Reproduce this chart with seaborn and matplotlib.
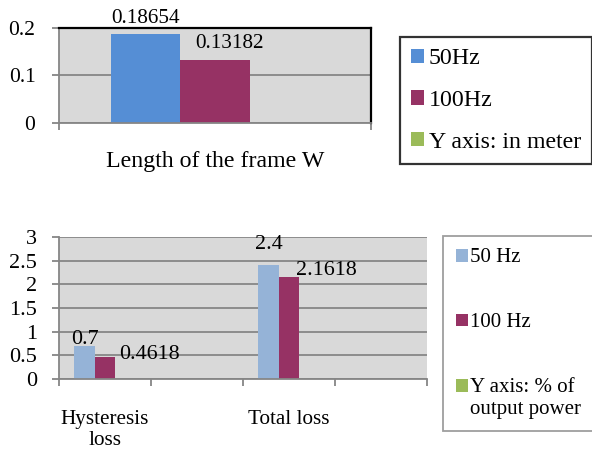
import matplotlib
matplotlib.use('Agg')
import matplotlib.pyplot as plt
from matplotlib.patches import Patch
import seaborn as sns
import pandas as pd

# data
top_category = ["Length of the frame W"]
top_series = ["50Hz", "100Hz", "Y axis: in meter"]
top_values = [0.18654, 0.13182, 0.0]
top_labels = ["0.18654", "0.13182", None]

bottom_categories = ["Hysteresis\nloss", " ", "Total loss", "  "]
bottom_series = ["50 Hz", "100 Hz", "Y axis: % of\noutput power"]
bottom_50 = [0.7, 0.0, 2.4, 0.0]
bottom_100 = [0.4618, 0.0, 2.1618, 0.0]
bottom_axis = [0.0, 0.0, 0.0, 0.0]
bottom_labels = {("Hysteresis\nloss", "50 Hz"): "0.7",
                 ("Hysteresis\nloss", "100 Hz"): "0.4618",
                 ("Total loss", "50 Hz"): "2.4",
                 ("Total loss", "100 Hz"): "2.1618"}

top_colors = ["#558ED5", "#963264", "#9BBB59"]
bottom_colors = ["#95B3D7", "#963264", "#9BBB59"]
grid_gray = "#868686"
bg = "#D9D9D9"

plt.rcParams['font.family'] = ['Liberation Serif', 'DejaVu Serif']

fig = plt.figure(figsize=(5.92, 4.51), dpi=100)
W, H = 592, 451


def px_axes(x0, y0, x1, y1):
    return fig.add_axes([x0 / W, 1 - y1 / H, (x1 - x0) / W, (y1 - y0) / H])


# ---- top chart ----
ax1 = px_axes(59, 28, 371, 123)
df_top = pd.DataFrame({"category": top_category * len(top_series),
                       "series": top_series, "value": top_values})
sns.barplot(data=df_top, x="category", y="value", hue="series",
            hue_order=top_series, palette=dict(zip(top_series, top_colors)),
            width=0.668, gap=0, saturation=1, errorbar=None, legend=False,
            linewidth=0, ax=ax1)
ax1.set_facecolor(bg)
ax1.set_axisbelow(True)
ax1.set_ylim(0, 0.2)
ax1.set_yticks([0, 0.1, 0.2])
ax1.set_yticklabels(["0", "0.1", "0.2"])
ax1.yaxis.grid(True, color=grid_gray, lw=1.3)
ax1.set_xlim(-0.5, 0.5)
ax1.set_xticks([-0.5, 0.5])
ax1.set_xticklabels(["", ""])
ax1.set_xticks([0], minor=True)
ax1.set_xticklabels(top_category, minor=True)
ax1.tick_params(axis='x', which='minor', length=0, pad=20.5, labelsize=17.2)
ax1.tick_params(axis='x', which='major', length=5, color=grid_gray, width=1.3)
ax1.tick_params(axis='y', length=5, color=grid_gray, width=1.3, pad=12, labelsize=15.5)
ax1.set_xlabel("")
ax1.set_ylabel("")
for s in ["top", "right"]:
    ax1.spines[s].set_color("black")
    ax1.spines[s].set_linewidth(1.6)
for s in ["left", "bottom"]:
    ax1.spines[s].set_color(grid_gray)
    ax1.spines[s].set_linewidth(1.3)

top_offsets = [(0, 8), (10.5, 9), (0, 0)]
for cont, lab, off in zip(ax1.containers, top_labels, top_offsets):
    if lab is None:
        continue
    bar = cont[0]
    ax1.annotate(lab, (bar.get_x() + bar.get_width() / 2, bar.get_height()),
                 xytext=off, textcoords="offset points", ha="center",
                 va="baseline", fontsize=15.2, annotation_clip=False)

# ---- bottom chart ----
ax2 = px_axes(59, 237, 427, 379)
df_bot = pd.DataFrame({
    "category": bottom_categories * 3,
    "series": [s for s in bottom_series for _ in bottom_categories],
    "value": bottom_50 + bottom_100 + bottom_axis,
})
sns.barplot(data=df_bot, x="category", y="value", hue="series",
            order=bottom_categories, hue_order=bottom_series,
            palette=dict(zip(bottom_series, bottom_colors)),
            width=0.668, gap=0, saturation=1, errorbar=None, legend=False,
            linewidth=0, ax=ax2)
ax2.set_facecolor(bg)
ax2.set_axisbelow(True)
ax2.set_ylim(0, 3)
ax2.set_yticks([0, 0.5, 1, 1.5, 2, 2.5, 3])
ax2.set_yticklabels(["0", "0.5", "1", "1.5", "2", "2.5", "3"])
ax2.yaxis.grid(True, color=grid_gray, lw=1.3)
n = len(bottom_categories)
ax2.set_xlim(-0.5, n - 0.5)
ax2.set_xticks([i - 0.5 for i in range(n + 1)])
ax2.set_xticklabels([""] * (n + 1))
ax2.set_xticks(range(n), minor=True)
ax2.set_xticklabels(bottom_categories, minor=True)
ax2.tick_params(axis='x', which='minor', length=0, pad=22, labelsize=15.2)
ax2.tick_params(axis='x', which='major', length=5, color=grid_gray, width=1.3)
ax2.tick_params(axis='y', length=5, color=grid_gray, width=1.3, pad=11, labelsize=16)
ax2.set_xlabel("")
ax2.set_ylabel("")
ax2.spines["top"].set_visible(False)
ax2.spines["right"].set_visible(False)
for s in ["left", "bottom"]:
    ax2.spines[s].set_color(grid_gray)
    ax2.spines[s].set_linewidth(1.3)

bottom_offsets = {("Hysteresis\nloss", "50 Hz"): (0, 1.5),
                  ("Hysteresis\nloss", "100 Hz"): (32, -1.5),
                  ("Total loss", "50 Hz"): (0, 11.5),
                  ("Total loss", "100 Hz"): (27, 1.5)}
for s, cont in zip(bottom_series, ax2.containers):
    for cat, bar in zip(bottom_categories, cont):
        lab = bottom_labels.get((cat, s))
        if lab is None:
            continue
        ax2.annotate(lab, (bar.get_x() + bar.get_width() / 2, bar.get_height()),
                     xytext=bottom_offsets[(cat, s)], textcoords="offset points",
                     ha="center", va="baseline", fontsize=15.8)

# ---- legends ----
top_handles = [Patch(facecolor=c, edgecolor="none") for c in top_colors]
leg1 = fig.legend(top_handles, top_series, loc="upper left",
                  bbox_to_anchor=(400 / W, 1 - 37 / H), fontsize=17.2,
                  frameon=True, fancybox=False, edgecolor="black",
                  handlelength=0.54, handleheight=0.54, handletextpad=0.2,
                  labelspacing=0.87, borderpad=0.47, borderaxespad=0)
leg1.get_frame().set_linewidth(1.6)

leg2_fs = 15
bot_handles = [Patch(facecolor=c, edgecolor="none") for c in bottom_colors]
leg2 = fig.legend(bot_handles, bottom_series, loc="upper left",
                  bbox_to_anchor=(443 / W, 1 - 236 / H), fontsize=leg2_fs,
                  frameon=True, fancybox=False, edgecolor=grid_gray,
                  handlelength=0.58, handleheight=0.58, handletextpad=0.12,
                  labelspacing=2.2, borderpad=0.6, borderaxespad=0)
leg2.get_frame().set_linewidth(1.3)
# put the marker of the two-line entry next to its first line
h3 = leg2.legend_handles[2]
h3.set_y(h3.get_y() + 0.6 * leg2_fs)

fig.savefig("out.png", dpi=100)
